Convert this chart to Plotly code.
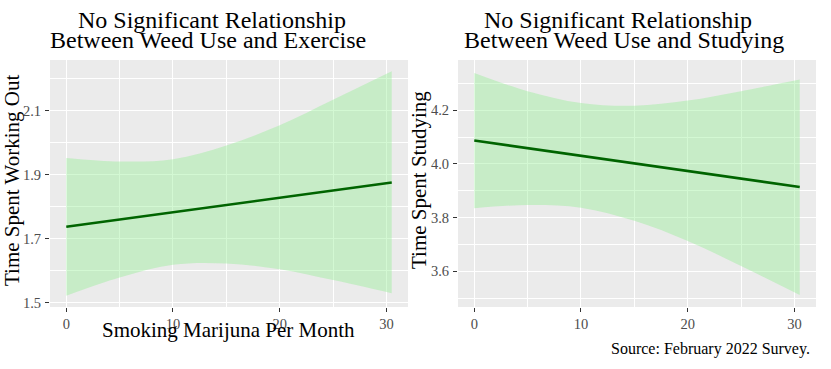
import plotly.graph_objects as go

# ---- data ----
x_pts = [0, 5, 10, 15, 20, 25, 30.5]
x_line = [0, 30.5]

# Left panel: exercise
ex_fit = [1.737, 1.875]
ex_upper = [1.952, 1.941, 1.948, 1.991, 2.054, 2.134, 2.223]
ex_lower = [1.521, 1.578, 1.618, 1.622, 1.604, 1.570, 1.529]

# Right panel: studying
st_fit = [4.087, 3.914]
st_upper = [4.339, 4.271, 4.227, 4.217, 4.236, 4.271, 4.314]
st_lower = [3.835, 3.847, 3.837, 3.788, 3.713, 3.620, 3.512]

x_ticks = [0, 10, 20, 30]
ex_ticks = [1.5, 1.7, 1.9, 2.1]
st_ticks = [3.6, 3.8, 4.0, 4.2]

titles_left = ["No Significant Relationship", "Between Weed Use and Exercise"]
titles_right = ["No Significant Relationship", "Between Weed Use and Studying"]
xlab = "Smoking Marijuna Per Month"
ylab_left = "Time Spent Working Out"
ylab_right = "Time Spent Studying"
caption = "Source: February 2022 Survey."

W, H = 831, 369
FONT = "Liberation Serif"
RIB = "rgba(144,238,144,0.4)"
LINE = "#006400"


def px(x):
    return x / W


def py(y):
    return 1 - y / H


fig = go.Figure()

for xa, ya, up, lo, fit in [("x", "y", ex_upper, ex_lower, ex_fit),
                            ("x2", "y2", st_upper, st_lower, st_fit)]:
    fig.add_trace(go.Scatter(
        x=x_pts, y=up, mode="lines", line=dict(width=0, shape="spline", color="rgba(0,0,0,0)"),
        hoverinfo="skip", showlegend=False, xaxis=xa, yaxis=ya))
    fig.add_trace(go.Scatter(
        x=x_pts, y=lo, mode="lines", fill="tonexty", fillcolor=RIB,
        line=dict(width=0, shape="spline", color="rgba(0,0,0,0)"),
        hoverinfo="skip", showlegend=False, xaxis=xa, yaxis=ya))
    fig.add_trace(go.Scatter(
        x=x_line, y=fit, mode="lines", line=dict(color=LINE, width=2.6),
        showlegend=False, xaxis=xa, yaxis=ya))

axis_common = dict(
    showgrid=True, gridcolor="white", gridwidth=1.2, zeroline=False,
    ticks="outside", ticklen=4, tickwidth=1, tickcolor="#333333",
    tickfont=dict(family=FONT, size=14.5, color="#4D4D4D"),
    showline=False, automargin=False,
)
minor_common = dict(showgrid=True, gridcolor="white", gridwidth=0.6, ticks="")

y_top, y_bot = 60, 307
fig.update_layout(
    width=W, height=H, margin=dict(l=0, r=0, t=0, b=0, autoexpand=False),
    paper_bgcolor="white", plot_bgcolor="#EBEBEB",
    font=dict(family=FONT),
    xaxis=dict(domain=[px(50), px(408)], range=[-1.525, 32.025],
               tickvals=x_ticks, anchor="y",
               minor=dict(dtick=5, tick0=0, **minor_common), **axis_common),
    yaxis=dict(domain=[py(y_bot), py(y_top)], range=[1.4858, 2.2582],
               tickvals=ex_ticks, ticktext=[f"{v:.1f}" for v in ex_ticks], anchor="x",
               ticklabelstandoff=1,
               minor=dict(dtick=0.1, tick0=1.5, **minor_common), **axis_common),
    xaxis2=dict(domain=[px(458), px(816)], range=[-1.525, 32.025],
                tickvals=x_ticks, anchor="y2",
                minor=dict(dtick=5, tick0=0, **minor_common), **axis_common),
    yaxis2=dict(domain=[py(y_bot), py(y_top)], range=[3.467, 4.387],
                tickvals=st_ticks, ticktext=[f"{v:.1f}" for v in st_ticks], anchor="x2",
                ticklabelstandoff=1,
                minor=dict(dtick=0.1, tick0=3.5, **minor_common), **axis_common),
)

ann = []


def add_text(text, x, y, size, xanchor="center", angle=0, color="black"):
    ann.append(dict(text=text, x=px(x), y=py(y), xref="paper", yref="paper",
                    xanchor=xanchor, yanchor="middle", showarrow=False,
                    textangle=angle, font=dict(family=FONT, size=size, color=color)))


add_text(titles_left[0], 212, 19.5, 24)
add_text(titles_left[1], 208, 40.5, 24)
add_text(titles_right[0], 618, 20, 24)
add_text(titles_right[1], 624, 40.5, 24)
add_text(xlab, 228, 329.5, 21)
add_text(ylab_left, 12, 181, 21, angle=-90)
add_text(ylab_right, 419, 180, 21, angle=-90)
add_text(caption, 812, 349, 16, xanchor="right")
fig.update_layout(annotations=ann)

fig.write_html("out.html", config={"displayModeBar": False},
               post_script="document.body.style.margin='0px';")
